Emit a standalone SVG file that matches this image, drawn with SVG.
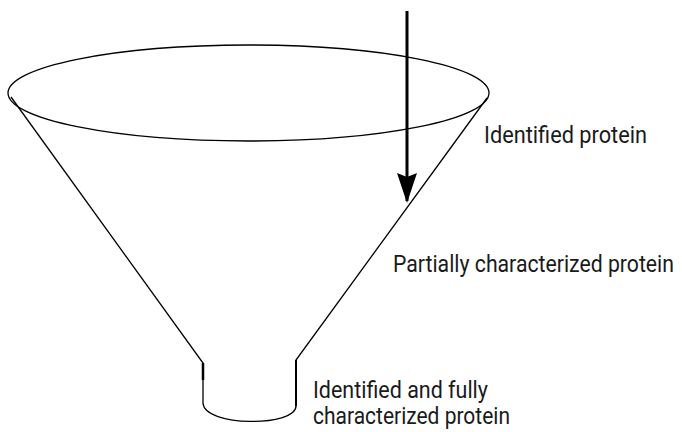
<svg xmlns="http://www.w3.org/2000/svg" width="682" height="432" viewBox="0 0 682 432">
<style>
.ln{fill:none;stroke:#000;stroke-width:1.3}
.lbl{font-family:"Liberation Sans Narrow","Roboto","Liberation Sans",sans-serif;font-size:23px;fill:#1a1a1a}
</style>
<defs>
<marker id="ah" markerUnits="userSpaceOnUse" markerWidth="30" markerHeight="20" refX="28" refY="10" orient="auto" viewBox="0 0 30 20">
<path d="M0,0 L4,10 L0,20 L30,10 Z" fill="#000"/>
</marker>
</defs>
<rect width="682" height="432" fill="#fff"/>
<g id="funnel">
<ellipse class="ln" cx="248.5" cy="93" rx="240.5" ry="48"/>
<path class="ln" d="M11,97 L203,363 L203,403"/>
<path class="ln" d="M487,98 L296,360 L296,406"/>
<path class="ln" d="M203,403 C204,427 296,427 296,406"/>
<path d="M203,363 L203,380" stroke="#000" stroke-width="2.5"/>
<path d="M296,360 L296,406" stroke="#000" stroke-width="2"/>
</g>
<g id="connectors">
<line x1="407" y1="11" x2="407" y2="201" stroke="#000" stroke-width="3" marker-end="url(#ah)"/>
</g>
<g id="label-identified">
<text class="lbl" x="484" y="143" textLength="163" lengthAdjust="spacingAndGlyphs">Identified protein</text>
</g>
<g id="label-partial">
<text class="lbl" x="393" y="272" textLength="281" lengthAdjust="spacingAndGlyphs">Partially characterized protein</text>
</g>
<g id="label-full">
<text class="lbl" x="313" y="398" textLength="175" lengthAdjust="spacingAndGlyphs">Identified and fully</text>
<text class="lbl" x="313" y="424" textLength="197" lengthAdjust="spacingAndGlyphs">characterized protein</text>
</g>
</svg>
